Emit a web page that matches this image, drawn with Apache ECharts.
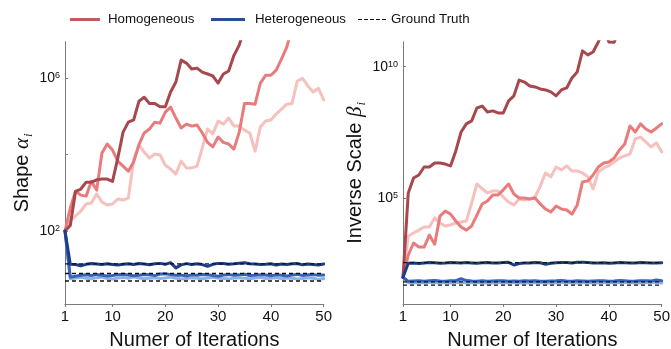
<!DOCTYPE html>
<html><head><meta charset="utf-8">
<script src="https://cdn.jsdelivr.net/npm/echarts@6/dist/echarts.min.js"></script>
<style>html,body{margin:0;padding:0;background:#fff}#c{width:671px;height:349px}</style>
</head><body><div id="c"></div>
<script>
const iterations = [1,2,3,4,5,6,7,8,9,10,11,12,13,14,15,16,17,18,19,20,21,22,23,24,25,26,27,28,29,30,31,32,33,34,35,36,37,38,39,40,41,42,43,44,45,46,47,48,49,50];
const xTicks = [1,10,20,30,40,50];

// Shape alpha_i (left panel)
const shapeHomDark = [1e2,1.4e2,1.1e3,1.26e3,1.9e3,1.9e3,2.2e3,2.3e3,2.3e3,2.0e3,8.1e3,3.9e4,7.1e4,8.1e4,2.5e5,3.2e5,2.2e5,2.2e5,1.8e5,1.8e5,4.4e5,8.0e5,3.0e6,2.5e6,1.75e6,1.85e6,1.45e6,1.3e6,1.15e6,7.5e5,1.3e6,1.55e6,4.0e6,7.4e6,2e7,null,null,null,null,null,null,null,null,null,null,null,null,null,null,null];
const shapeHomMid = [1e2,4.0e2,1.1e3,8.7e2,8.2e2,2.0e3,1.18e3,1.1e4,1.9e4,1.32e4,6.8e3,5.0e3,3.7e3,6.4e3,1.8e4,3.7e4,4.7e4,7.1e4,6.7e4,1.3e5,1.76e5,9.1e4,5.0e4,6.3e4,5.6e4,6.0e4,3.7e4,2.1e4,1.6e4,2.9e4,2.1e4,1.9e4,1.4e4,3.9e4,2.2e5,2.2e5,2.1e5,7.5e5,1.2e6,1.2e6,1.64e6,3.2e6,6.6e6,2e7,null,null,null,null,null,null];
const shapeHomLight = [1e2,1.9e2,2.5e2,3.3e2,5.1e2,5.4e2,9.3e2,5.7e2,4.8e2,5.1e2,6.9e2,6.5e2,7.3e2,7.2e3,1.8e4,1.17e4,8.1e3,1.04e4,9.8e3,5.3e3,4.2e3,3.1e3,6.8e3,4.5e3,4.5e3,5.0e3,1.5e4,4.7e4,3.5e4,7.6e4,6.3e4,9.1e4,5.6e4,5.6e4,4.4e4,3.7e4,1.24e4,5.3e4,7.6e4,8.1e4,1.16e5,1.56e5,2.1e5,2.2e5,8.5e5,1.0e6,6.3e5,4.4e5,5.5e5,2.7e5];
const shapeHetDark = [100,13.5,13.2,12.3,13.4,14.0,13.6,13.2,13.8,13.3,12.8,13.5,13.9,13.2,14.1,13.6,13.0,13.8,14.2,13.4,14.8,10.8,13.0,14.0,13.3,13.9,13.2,11.9,13.4,14.2,14.0,13.5,13.8,14.3,14.8,13.9,13.6,13.2,13.4,13.9,12.9,13.6,13.2,13.8,14.1,13.0,13.7,13.3,12.8,13.6];
const shapeHetMid = [100,6.2,6.5,6.9,7.1,6.8,7.3,6.9,6.6,6.8,7.2,7.4,7.0,6.7,6.9,7.3,7.1,6.8,7.5,7.6,7.2,6.9,7.0,6.6,7.1,6.9,7.3,7.2,6.8,6.5,7.0,7.2,6.9,7.1,7.4,6.8,6.9,7.2,7.0,6.7,7.1,6.9,6.6,7.0,7.3,6.8,7.1,7.2,6.9,7.0];
const shapeHetLight = [100,5.6,5.9,6.1,5.8,5.6,6.0,6.2,5.7,5.5,5.9,6.1,5.8,6.3,5.9,5.6,5.8,6.0,5.7,5.9,6.2,5.8,5.5,5.7,6.0,5.8,5.6,5.9,6.1,5.8,5.7,5.5,5.9,6.0,5.8,5.6,5.9,6.1,5.7,5.8,6.0,5.6,5.9,5.8,5.5,5.7,6.0,5.8,5.4,5.7];
const shapeGroundTruth = [13.7, 7.7, 4.9];

// Inverse scale beta_i (right panel)
const scaleHomDark = [1e2,1.6e5,5.9e5,7.7e5,1.55e6,1.55e6,2.2e6,2.2e6,2.0e6,1.7e6,6.3e6,3.3e7,6.7e7,8.7e7,2.7e8,3.2e8,1.9e8,2.1e8,1.75e8,1.75e8,5.0e8,7.8e8,3.1e9,2.6e9,1.86e9,1.7e9,1.43e9,1.31e9,1.1e9,7.8e8,1.31e9,1.56e9,3.75e9,6.3e9,4.0e10,2.8e10,3.6e10,8.7e10,3e11,8.6e10,8.4e10,3e11,null,null,null,null,null,null,null,null];
const scaleHomMid = [1e2,7.0e2,2.0e3,1.4e3,1.4e3,4.0e3,1.8e3,2.1e4,3.3e4,2.5e4,1.37e4,8.1e3,6.2e3,8.9e3,2.3e4,6.1e4,7.9e4,1.33e5,1.33e5,2.1e5,3.5e5,1.46e5,1.03e5,1.03e5,9.4e4,1.03e5,6.1e4,3.9e4,3.0e4,5.1e4,3.9e4,3.6e4,2.5e4,5.6e4,4.2e5,4.5e5,7.7e5,1.55e6,2.2e6,2.4e6,3.4e6,6.9e6,1.16e7,5.6e7,3.3e7,6.7e7,4.3e7,3.3e7,4.7e7,6.7e7];
const scaleHomLight = [1e2,3.7e3,4.8e3,6.2e3,8.1e3,8.1e3,1.8e4,1.15e4,8.9e3,9.7e3,1.15e4,1.26e4,1.37e4,6.6e4,3.5e5,2.3e5,1.6e5,1.9e5,1.9e5,1.12e5,7.2e4,5.6e4,9.4e4,8.6e4,9.4e4,1.12e5,2.9e5,9.2e5,6.5e5,1.55e6,1.19e6,1.7e6,1.09e6,1.09e6,9.2e5,6.5e5,2.3e5,1.0e6,1.42e6,1.7e6,2.4e6,3.4e6,4.1e6,4.8e6,1.8e7,2.1e7,1.38e7,8.9e6,1.27e7,5.8e6];
const scaleHetDark = [100,340,350,330,345,360,355,340,350,365,355,345,360,350,340,355,365,350,345,360,370,292,330,350,345,360,355,310,340,355,365,360,350,370,375,360,345,350,355,340,350,360,355,345,350,360,355,345,350,355];
const scaleHetMid = [100,70,72,74,71,73,75,72,70,73,74,88,75,72,71,73,70,72,74,73,71,72,70,73,72,74,71,70,72,73,75,72,71,73,72,70,72,74,73,71,72,75,73,71,72,74,73,72,78,74];
const scaleHetLight = [100,62,60,63,61,64,62,60,63,61,62,64,60,62,63,61,62,60,63,62,61,63,60,62,61,63,62,60,62,61,63,62,60,61,63,62,61,60,62,63,61,62,64,62,61,60,62,63,65,61];
const scaleGroundTruth = [360, 67, 50];

const shapeYTicks = [1e2, 1e4, 1e6];
const shapeYLabels = [1e2, 1e6];
const scaleYTicks = [1e5, 1e10];
const scaleYLabels = [1e5, 1e10];
const legendNames = ['Homogeneous', 'Heterogeneous', 'Ground Truth'];

const FONT = 'Liberation Sans';
const C = { dark:'#a6484d', mid:'#e97b7c', light:'#f6c0bc', navy:'#1d3c8a', blue:'#3563ba', lblue:'#8fb0e3', legRed:'#c25b5f', legBlue:'#2a4c9d' };

function pairs(vals){ return iterations.map((x,i)=>[x, vals[i]]).filter(p=>p[1]!=null); }
function line(vals, color, gi, z){
  return { type:'line', xAxisIndex:gi, yAxisIndex:gi, data:pairs(vals), symbol:'none', z:z,
    lineStyle:{color:color, width:3, cap:'round', join:'round'}, itemStyle:{color:color}, silent:true };
}
function gt(v, gi){
  return { type:'line', xAxisIndex:gi, yAxisIndex:gi, data:[[iterations[0], v],[iterations[iterations.length-1], v]],
    symbol:'none', z:10, lineStyle:{color:'#111', width:1.3, type:[4,3]}, silent:true };
}
const gridW = 258.7, gridH = 262.3, gridTop = 41.7;
function xAx(gi){
  return { gridIndex:gi, type:'value', min:iterations[0], max:iterations[iterations.length-1],
    axisLine:{show:true, onZero:false, lineStyle:{color:'#7a7a7a', width:1}},
    axisTick:{show:true, customValues:xTicks, length:3, inside:false, lineStyle:{color:'#7a7a7a'}},
    axisLabel:{customValues:xTicks, fontSize:15, color:'#111', fontFamily:FONT, margin:5},
    splitLine:{show:false},
    name:'Numer of Iterations', nameLocation:'middle', nameGap:26,
    nameTextStyle:{fontSize:20, color:'#111', fontFamily:FONT} };
}
const supRich = {
  b:{fontSize:14, lineHeight:14, verticalAlign:'middle', color:'#111', fontFamily:FONT},
  s:{fontSize:9, lineHeight:9, padding:[0,0,16,0], verticalAlign:'top', color:'#111', fontFamily:FONT}
};
const nameRich = {
  t:{fontSize:20, lineHeight:24, verticalAlign:'middle', color:'#111', fontFamily:FONT},
  m:{fontSize:21, lineHeight:24, verticalAlign:'middle', color:'#111', fontFamily:'Liberation Serif', fontStyle:'italic'},
  u:{fontSize:13, lineHeight:13, padding:[12,0,0,1], verticalAlign:'top', color:'#111', fontFamily:'Liberation Serif', fontStyle:'italic'}
};
function yAx(gi, min, max, ticks, labels, name, gap){
  return { gridIndex:gi, type:'log', logBase:10, min:min, max:max,
    axisLine:{show:true, lineStyle:{color:'#7a7a7a', width:1}},
    axisTick:{show:true, customValues:ticks, length:3, inside:true, lineStyle:{color:'#7a7a7a'}},
    axisLabel:{customValues:labels, margin:5, formatter:v=>'{b|10}{s|'+Math.round(Math.log10(v))+'}', rich:supRich},
    splitLine:{show:false}, minorTick:{show:false},
    name:name, nameLocation:'middle', nameRotate:90, nameGap:gap,
    nameTextStyle:{rich:nameRich} };
}

const series = [
  line(shapeHomLight, C.light, 0, 2), line(shapeHomMid, C.mid, 0, 3), line(shapeHomDark, C.dark, 0, 4),
  line(shapeHetLight, C.lblue, 0, 5), line(shapeHetMid, C.blue, 0, 6), line(shapeHetDark, C.navy, 0, 7),
  line(scaleHomLight, C.light, 1, 2), line(scaleHomMid, C.mid, 1, 3), line(scaleHomDark, C.dark, 1, 4),
  line(scaleHetLight, C.lblue, 1, 5), line(scaleHetMid, C.blue, 1, 6), line(scaleHetDark, C.navy, 1, 7)
];
shapeGroundTruth.forEach(v=>series.push(gt(v,0)));
scaleGroundTruth.forEach(v=>series.push(gt(v,1)));
// legend carriers
series.push({type:'line', name:legendNames[0], data:[], symbol:'none', color:C.legRed, xAxisIndex:0, yAxisIndex:0});
series.push({type:'line', name:legendNames[1], data:[], symbol:'none', color:C.legBlue, xAxisIndex:0, yAxisIndex:0});
series.push({type:'line', name:legendNames[2], data:[], symbol:'none', color:'#111', xAxisIndex:0, yAxisIndex:0});

const legText = {fontSize:13.3, color:'#111', fontFamily:FONT};
const option = {
  animation:false,
  backgroundColor:'#fff',
  grid:[
    {left:65, top:gridTop, width:gridW, height:gridH, outerBoundsMode:'none', containLabel:false},
    {left:403, top:gridTop, width:gridW, height:gridH, outerBoundsMode:'none', containLabel:false}
  ],
  xAxis:[xAx(0), xAx(1)],
  yAxis:[
    yAx(0, 1.225, 9.1e6, shapeYTicks, shapeYLabels, '{t|Shape }{m|α}{u|i}', 30),
    yAx(1, 9.64, 8.9e10, scaleYTicks, scaleYLabels, '{t|Inverse Scale }{m|β}{u|i}', 19)
  ],
  legend:[
    {data:[legendNames[0]], left:65, top:8, icon:'rect', itemWidth:30, itemHeight:3, textStyle:Object.assign({padding:[0,0,0,3]}, legText), selectedMode:false},
    {data:[legendNames[1]], left:206, top:8, icon:'rect', itemWidth:34, itemHeight:3, textStyle:Object.assign({padding:[0,0,0,5]}, legText), selectedMode:false},
    {data:[legendNames[2]], left:353, top:8, icon:'path://M0,0H4V1H0Z M6,0H10V1H6Z M12,0H16V1H12Z M18,0H22V1H18Z M24,0H28V1H24Z', itemWidth:28, itemHeight:1.2, textStyle:legText, selectedMode:false}
  ],
  series:series
};
const chart = echarts.init(document.getElementById('c'), null, {renderer:'canvas'});
chart.setOption(option);
</script>
</body></html>
